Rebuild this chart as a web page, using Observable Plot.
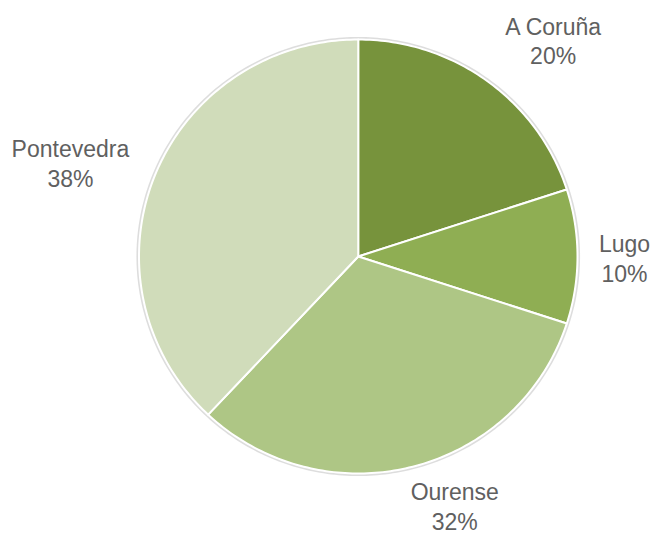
<!DOCTYPE html>
<html>
<head>
<meta charset="utf-8">
<script src="https://cdn.jsdelivr.net/npm/d3@7"></script>
<script src="https://cdn.jsdelivr.net/npm/@observablehq/plot@0.6"></script>
<style>
  html, body { margin: 0; padding: 0; background: #fff; }
  #chart svg { display: block; }
</style>
</head>
<body>
<div id="chart"></div>
<script>
// Data
const provinces = ["A Coruña", "Lugo", "Ourense", "Pontevedra"];
const shares = [20, 10, 32, 38];
const colors = ["#77933C", "#8FAE53", "#AEC685", "#D0DCBA"];

// Pie geometry (angles measured clockwise from 12 o'clock)
const total = d3.sum(shares);
let acc = 0;
const slices = provinces.map((name, i) => {
  const a0 = acc / total * 2 * Math.PI;
  acc += shares[i];
  const a1 = acc / total * 2 * Math.PI;
  return {name, value: shares[i], a0, a1, mid: (a0 + a1) / 2};
});

const outline = [];
for (const s of slices) {
  outline.push({name: s.name, x: 0, y: 0});
  const n = Math.max(2, Math.ceil((s.a1 - s.a0) / (Math.PI / 180)));
  for (let k = 0; k <= n; k++) {
    const a = s.a0 + (s.a1 - s.a0) * k / n;
    outline.push({name: s.name, x: Math.sin(a), y: Math.cos(a)});
  }
  outline.push({name: s.name, x: 0, y: 0});
}

const ring = d3.range(0, 361).map(d => {
  const a = d * Math.PI / 180;
  return {x: 1.006 * Math.sin(a), y: 1.006 * Math.cos(a)};
});

// label nudges (layout only)
const nudge = {
  "A Coruña": [66, -41],
  "Lugo": [47, 1],
  "Ourense": [42, 39],
  "Pontevedra": [-84, -14]
};

const labelMarks = slices.map(s => Plot.text([s], {
  x: d => Math.sin(d.mid),
  y: d => Math.cos(d.mid),
  text: d => `${d.name}\n${d.value}%`,
  dx: nudge[s.name][0],
  dy: nudge[s.name][1],
  fontSize: 23,
  lineHeight: 1.3,
  fill: "#606060",
  textAnchor: "middle",
  fontFamily: "Liberation Sans, Arial, sans-serif"
}));

const chart = Plot.plot({
  width: 654,
  height: 536,
  marginLeft: 138.5,
  marginRight: 77,
  marginTop: 39,
  marginBottom: 63,
  x: {domain: [-1, 1], axis: null},
  y: {domain: [-1, 1], axis: null},
  color: {domain: provinces, range: colors},
  style: {background: "#fff", fontFamily: "Liberation Sans, Arial, sans-serif"},
  marks: [
    Plot.line(ring, {x: "x", y: "y", stroke: "#d4d4d4", strokeWidth: 2.5, strokeOpacity: 0.8}),
    Plot.line(outline, {x: "x", y: "y", z: "name", fill: "name", stroke: "white", strokeWidth: 2, strokeLinejoin: "round"}),
    ...labelMarks
  ]
});

document.getElementById("chart").appendChild(chart);
</script>
</body>
</html>
